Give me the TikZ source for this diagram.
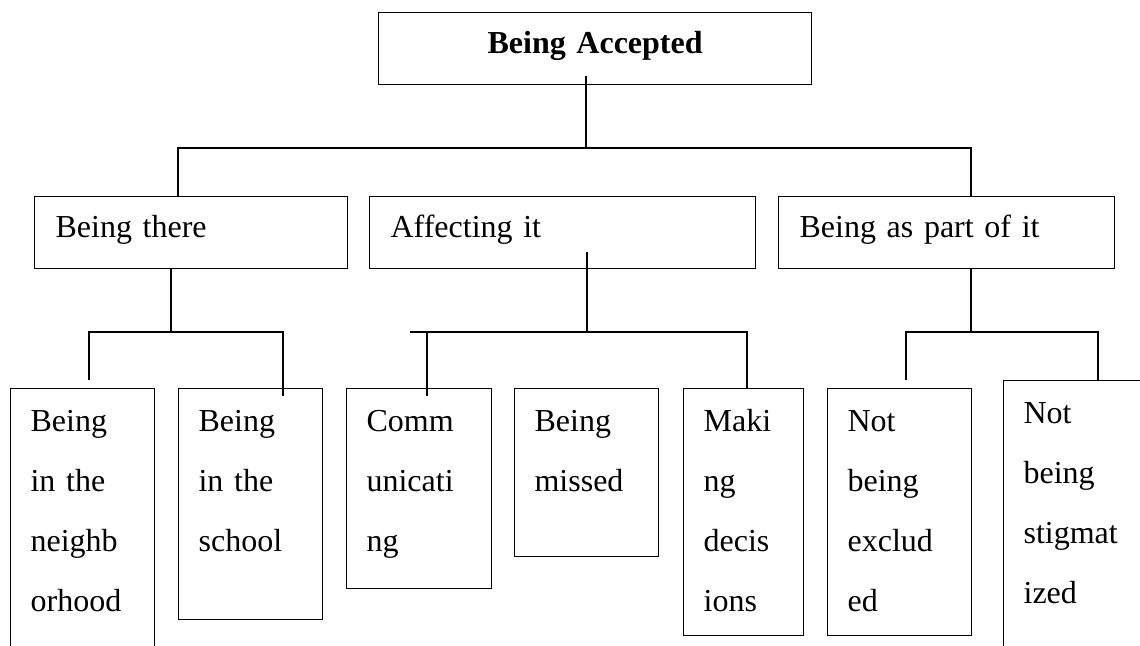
\documentclass[tikz,border=0pt]{standalone}
\usepackage{fontspec}
\setmainfont{Liberation Serif}
\begin{document}
\begin{tikzpicture}[x=0.75pt,y=-0.75pt,
  lw/.style={line width=0.9pt},
  topbox/.style={draw, lw, inner sep=0pt, anchor=north west, text width=324.75pt,
    align=center, text height=30.75pt, text depth=23.25pt,
    font=\bfseries\fontsize{24pt}{45pt}\selectfont},
  midbox/.style={draw, lw, inner xsep=15.75pt, inner ysep=0pt, anchor=north west,
    align=left, text height=30.75pt, text depth=23.25pt,
    font=\fontsize{24pt}{45pt}\selectfont},
  botbox/.style={draw, lw, inner xsep=15pt, inner ysep=0pt, anchor=north west,
    align=left, text height=32.25pt, font=\fontsize{24pt}{45pt}\selectfont},
  conn/.style={lw}
  ]
\fill[white] (0,0) rectangle (1140,646);
\useasboundingbox (0,0) rectangle (1140,646);
\clip (0,0) rectangle (1140,646);

% top
\node[topbox] (top) at (378,12) {Being Accepted};

% level 2
\node[midbox, text width=203.25pt] (bt) at (34,196) {Being there};
\node[midbox, text width=258pt] (af) at (369,196) {Affecting it};
\node[midbox, text width=220.5pt] (bp) at (778,196) {Being as part of it};

% level 3
\node[botbox, text width=78pt, text depth=171.75pt] (b1) at (10,388) {Being\\in the\\neighb\\orhood};
\node[botbox, text width=78pt, text depth=141pt] (b2) at (178,388) {Being\\in the\\school};
\node[botbox, text width=78.75pt, text depth=117.75pt] (c1) at (346,388) {Comm\\unicati\\ng};
\node[botbox, text width=78pt, text depth=93.75pt] (c2) at (514,388) {Being\\missed};
\node[botbox, text width=60pt, text depth=153pt] (c3) at (683,388) {Maki\\ng\\decis\\ions};
\node[botbox, text width=78pt, text depth=153pt] (d1) at (827,388) {Not\\being\\exclud\\ed};
\node[botbox, text width=80.25pt, text depth=177.75pt] (d2) at (1003,380) {Not\\being\\stigmat\\ized};

% connectors: top level
\coordinate (j0) at (586,148);
\coordinate (h1) at (178,148);
\coordinate (h2) at (971,148);
\draw[conn] (top.south -| j0) ++(0,-9) -- (j0);
\draw[conn] (h1 |- bt.north) -- (h1) -- (h2) -- (h2 |- bp.north);

% Being there branch
\coordinate (a0) at (171,332);
\coordinate (a1) at (89,332);
\coordinate (a2) at (283,332);
\draw[conn] (bt.south -| a0) -- (a0);
\draw[conn] (a1 |- b1.north) ++(0,-8) -- (a1) -- (a2) -- ([yshift=-6pt]a2 |- b2.north);

% Affecting it branch
\coordinate (e0) at (587,332);
\coordinate (e1) at (410,332);
\coordinate (e2) at (427,332);
\coordinate (e3) at (747,332);
\draw[conn] (af.south -| e0) ++(0,-17) -- (e0);
\draw[conn] (e1) -- (e3) -- (e3 |- c3.north);
\draw[conn] (e2) -- ([yshift=-6pt]e2 |- c1.north);

% Being as part of it branch
\coordinate (p0) at (971,332);
\coordinate (p1) at (906,332);
\coordinate (p2) at (1098,332);
\draw[conn] (bp.south -| p0) -- (p0);
\draw[conn] (p1 |- d1.north) ++(0,-8) -- (p1) -- (p2) -- (p2 |- d2.north);
\end{tikzpicture}
\end{document}
